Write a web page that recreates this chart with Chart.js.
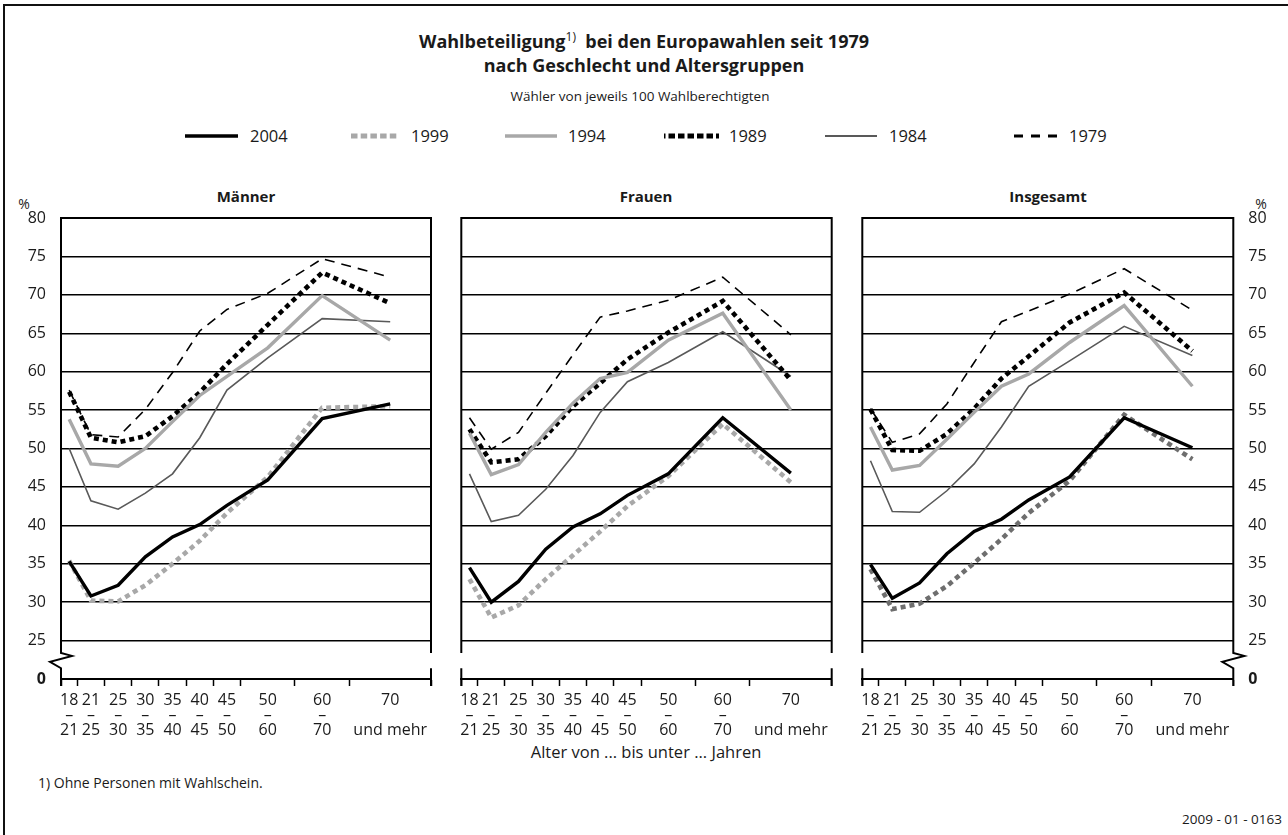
<!DOCTYPE html>
<html><head><meta charset="utf-8">
<script src="https://cdn.jsdelivr.net/npm/chart.js@4.4.1/dist/chart.umd.min.js"></script>
<style>
html,body{margin:0;padding:0;background:#fff;}
body{width:1288px;height:835px;position:relative;overflow:hidden;font-family:"Open Sans","Noto Sans",sans-serif;color:#1a1a1a;}
.t{position:absolute;white-space:nowrap;line-height:1.2;}
.c{transform:translate(-50%,-50%);}
.l{transform:translateY(-50%);}
.r{transform:translate(-100%,-50%);}
canvas{position:absolute;}
#frameTop{position:absolute;left:3px;top:4px;width:1285px;height:2px;background:#111;}
#frameLeft{position:absolute;left:3px;top:4px;width:2px;height:831px;background:#111;}
svg.lg{position:absolute;overflow:visible;}
</style></head><body>
<div id="frameTop"></div><div id="frameLeft"></div>

<div class="t c" style="left:644px;top:41px;font-size:18px;font-weight:bold;">Wahlbeteiligung<sup style="font-size:12px;font-weight:normal;">1)</sup>&nbsp; bei den Europawahlen seit 1979</div>
<div class="t c" style="left:644px;top:66px;font-size:18px;font-weight:bold;">nach Geschlecht und Altersgruppen</div>
<div class="t c" style="left:640px;top:96px;font-size:13.5px;">Wähler von jeweils 100 Wahlberechtigten</div>

<div id="legend"></div>

<div class="t c" style="left:246px;top:196px;font-size:15px;font-weight:bold;">Männer</div>
<div class="t c" style="left:646px;top:196px;font-size:15px;font-weight:bold;">Frauen</div>
<div class="t c" style="left:1048px;top:196px;font-size:15px;font-weight:bold;">Insgesamt</div>
<div class="t c" style="left:24px;top:204px;font-size:14px;">%</div>
<div class="t c" style="left:1261px;top:204px;font-size:14px;">%</div>

<canvas id="cM" width="445" height="534" style="left:0px;top:206px;"></canvas>
<canvas id="cF" width="395" height="534" style="left:450px;top:206px;"></canvas>
<canvas id="cI" width="438" height="534" style="left:850px;top:206px;"></canvas>

<div class="t c" style="left:646px;top:752px;font-size:16.5px;">Alter von ... bis unter ... Jahren</div>
<div class="t l" style="left:38px;top:783px;font-size:14px;">1) Ohne Personen mit Wahlschein.</div>
<div class="t r" style="left:1282px;top:819px;font-size:13.5px;">2009 - 01 - 0163</div>

<script>
// ---------- data ----------
const groupsFrom = ['18','21','25','30','35','40','45','50','60','70'];
const groupsTo   = ['21','25','30','35','40','45','50','60','70','und mehr'];
const years = ['2004','1999','1994','1989','1984','1979'];
const yTickValues = [20,25,30,35,40,45,50,55,60,65,70,75,80];   // 20 is shown as "0" (broken axis)
const yTickLabels = ['0','25','30','35','40','45','50','55','60','65','70','75','80'];

const maenner2004 = [35.3,30.8,32.2,35.9,38.5,40.1,42.6,45.9,53.9,55.8];
const maenner1999 = [35.4,30.2,30.1,32.2,35.0,38.0,41.6,46.3,55.3,55.5];
const maenner1994 = [53.8,48.0,47.7,50.0,53.5,56.9,59.4,63.1,69.9,64.1];
const maenner1989 = [57.4,51.4,50.8,51.6,54.2,57.3,61.0,66.1,72.9,68.9];
const maenner1984 = [50.0,43.2,42.1,44.2,46.7,51.4,57.6,61.8,66.9,66.5];
const maenner1979 = [57.6,51.8,51.5,55.1,59.9,65.3,68.1,70.2,74.7,72.3];

const frauen2004 = [34.5,30.0,32.7,36.9,39.8,41.5,43.9,46.7,54.0,46.8];
const frauen1999 = [33.0,28.0,29.6,33.0,36.1,39.2,42.5,46.4,53.2,45.6];
const frauen1994 = [52.0,46.6,47.9,52.1,55.9,59.1,59.9,64.1,67.6,55.0];
const frauen1989 = [52.5,48.2,48.6,51.6,55.5,58.5,61.6,65.1,69.2,58.9];
const frauen1984 = [46.7,40.5,41.3,44.7,49.1,54.7,58.7,61.2,65.2,59.4];
const frauen1979 = [54.0,49.9,52.1,57.2,62.2,67.1,67.9,69.3,72.3,64.8];

const insg2004 = [34.9,30.5,32.5,36.3,39.2,40.8,43.3,46.3,54.0,50.1];
const insg1999 = [34.3,29.1,29.8,32.1,35.1,38.2,41.6,45.8,54.4,48.6];
const insg1994 = [52.8,47.2,47.8,51.2,54.7,58.1,59.7,63.8,68.6,58.1];
const insg1989 = [55.1,49.8,49.7,51.9,55.2,59.1,62.0,66.4,70.3,62.7];
const insg1984 = [48.4,41.8,41.7,44.5,48.0,52.8,58.1,61.4,65.9,62.1];
const insg1979 = [55.2,50.8,51.9,55.8,61.2,66.5,67.9,70.1,73.4,68.0];

// ---------- layout / style ----------
const FONT = '"Open Sans","Noto Sans",sans-serif';
const groupSpan = [0.6,1,1,1,1,1,1,2,2,3];           // relative width of each age group on the axis
const bounds = [0];
groupSpan.forEach(w => bounds.push(+(bounds[bounds.length-1] + w).toFixed(4)));
const mids = groupSpan.map((w,i) => +((bounds[i] + bounds[i+1]) / 2).toFixed(4));
const allTicks = bounds.concat(mids).sort((a,b)=>a-b);

const styleBase = {
  '2004': {color:'#000000', width:3.4, dash:[]},
  '1999': {color:'#a8a8a8', width:4.6, dash:[5,4]},
  '1994': {color:'#a8a8a8', width:3.4, dash:[]},
  '1989': {color:'#000000', width:4.6, dash:[5,4]},
  '1984': {color:'#595959', width:1.6, dash:[]},
  '1979': {color:'#000000', width:1.6, dash:[10,7]}
};

function isBound(v){ return bounds.some(b => Math.abs(b - v) < 1e-6); }
function xLabel(v){
  const i = mids.findIndex(m => Math.abs(m - v) < 1e-6);
  if (i < 0) return '';
  const last = i === groupsFrom.length - 1;
  return [groupsFrom[i], last ? '' : '–', groupsTo[i]];
}

const framePlugin = {
  id: 'frame',
  afterDraw(chart, args, o) {
    const {ctx, chartArea: a} = chart;
    const ys = chart.scales.y;
    const bTop = ys.getPixelForValue(23.4), bBot = ys.getPixelForValue(21.4);
    ctx.save();
    ctx.strokeStyle = '#000';
    ctx.lineWidth = 2;
    ctx.lineCap = 'butt';
    [['left', a.left], ['right', a.right]].forEach(([side, x]) => {
      ctx.beginPath();
      ctx.moveTo(x, a.top - 1); ctx.lineTo(x, bTop);
      if (o.breakSide === side) {
        ctx.lineTo(x + 11, bTop + 3);
        ctx.lineTo(x - 11, bTop + 9);
        ctx.lineTo(x, bBot);
      } else {
        ctx.moveTo(x, bBot);
      }
      ctx.lineTo(x, a.bottom + 7);
      ctx.stroke();
    });
    ctx.restore();
  }
};

function makePanel(id, seriesList, cfg) {
  const datasets = years.map((yr, k) => {
    const st = Object.assign({}, styleBase[yr], (cfg.styleOverride || {})[yr] || {});
    return {
      label: yr,
      data: seriesList[k].map((v, i) => ({x: mids[i], y: v})),
      borderColor: st.color,
      borderWidth: st.width,
      borderDash: st.dash,
      borderCapStyle: 'butt',
      borderJoinStyle: 'miter',
      pointRadius: 0,
      tension: 0,
      fill: false
    };
  });
  const yScale = {
    type: 'linear', min: 20, max: 80, position: cfg.yPos,
    afterBuildTicks: s => { s.ticks = yTickValues.map(v => ({value: v})); },
    ticks: {
      display: cfg.yLabels,
      padding: 15,
      color: '#1a1a1a',
      font: c => ({family: FONT, size: 16, weight: (c.tick && c.tick.value === 20) ? 'bold' : 'normal'}),
      callback: v => yTickLabels[yTickValues.indexOf(v)]
    },
    grid: {
      drawTicks: false,
      color: c => (c.tick && c.tick.value === 20) ? 'rgba(0,0,0,0)' : '#000',
      lineWidth: c => (c.tick && c.tick.value === 80) ? 2 : 1.5
    },
    border: {display: false},
    afterFit: s => { s.width = cfg.yWidth; s.paddingTop = 0; s.paddingBottom = 0; }
  };
  return new Chart(document.getElementById(id), {
    type: 'line',
    data: {datasets},
    options: {
      responsive: false, animation: false,
      layout: {padding: cfg.padding},
      plugins: {legend: {display: false}, tooltip: {enabled: false}, frame: {breakSide: cfg.breakSide}},
      scales: {
        x: {
          type: 'linear', min: 0, max: bounds[bounds.length-1],
          afterBuildTicks: s => { s.ticks = allTicks.map(v => ({value: v})); },
          ticks: {
            autoSkip: false, maxRotation: 0, minRotation: 0, padding: 7,
            color: '#1a1a1a',
            font: {family: FONT, size: 16, lineHeight: 0.94},
            callback: v => xLabel(v)
          },
          grid: {
            drawOnChartArea: false, tickLength: 7, tickWidth: 1.5,
            tickColor: c => (c.tick && isBound(c.tick.value)) ? '#000' : 'rgba(0,0,0,0)'
          },
          border: {display: true, color: '#000', width: 2},
          afterFit: s => { s.height = 61; s.paddingLeft = 0; s.paddingRight = 0; }
        },
        y: yScale
      }
    },
    plugins: [framePlugin]
  });
}

makePanel('cM', [maenner2004, maenner1999, maenner1994, maenner1989, maenner1984, maenner1979],
  {yPos: 'left', yLabels: true, yWidth: 61, padding: {top: 12, right: 14, left: 0, bottom: 0}, breakSide: 'left'});
makePanel('cF', [frauen2004, frauen1999, frauen1994, frauen1989, frauen1984, frauen1979],
  {yPos: 'left', yLabels: false, yWidth: 0, padding: {top: 12, right: 13.3, left: 11.3, bottom: 0}, breakSide: null});
makePanel('cI', [insg2004, insg1999, insg1994, insg1989, insg1984, insg1979],
  {yPos: 'right', yLabels: true, yWidth: 54.7, padding: {top: 12, right: 0, left: 12.3, bottom: 0}, breakSide: 'right',
   styleOverride: {'1999': {color: '#6e6e6e'}}});

// ---------- legend ----------
const legendPos = [[185,238,250],[351,399,411],[505,557,568],[664,719,729],[825,877,889],[1014,1057,1069]];
const legendStyle = {
  '2004': {color:'#000', width:3.5, dash:''},
  '1999': {color:'#a8a8a8', width:5, dash:'6.5 3.2'},
  '1994': {color:'#a8a8a8', width:3.5, dash:''},
  '1989': {color:'#000', width:5, dash:'1.5 3 6.5 3 6.5 3 6.5 3 6.5 3 6.5 3 6.5 3'},
  '1984': {color:'#595959', width:2, dash:''},
  '1979': {color:'#000', width:3, dash:'9 8'}
};
const lg = document.getElementById('legend');
years.forEach((yr, k) => {
  const [x1, x2, tx] = legendPos[k];
  const st = legendStyle[yr];
  const svg = document.createElementNS('http://www.w3.org/2000/svg', 'svg');
  svg.setAttribute('class', 'lg');
  svg.setAttribute('width', x2 - x1); svg.setAttribute('height', 10);
  svg.style.left = x1 + 'px'; svg.style.top = '131px';
  const ln = document.createElementNS('http://www.w3.org/2000/svg', 'line');
  ln.setAttribute('x1', 0); ln.setAttribute('x2', x2 - x1);
  ln.setAttribute('y1', 5); ln.setAttribute('y2', 5);
  ln.setAttribute('stroke', st.color); ln.setAttribute('stroke-width', st.width);
  if (st.dash) ln.setAttribute('stroke-dasharray', st.dash);
  svg.appendChild(ln); lg.appendChild(svg);
  const d = document.createElement('div');
  d.className = 't l'; d.style.left = tx + 'px'; d.style.top = '136px'; d.style.fontSize = '16.5px';
  d.textContent = yr; lg.appendChild(d);
});
</script>
</body></html>
